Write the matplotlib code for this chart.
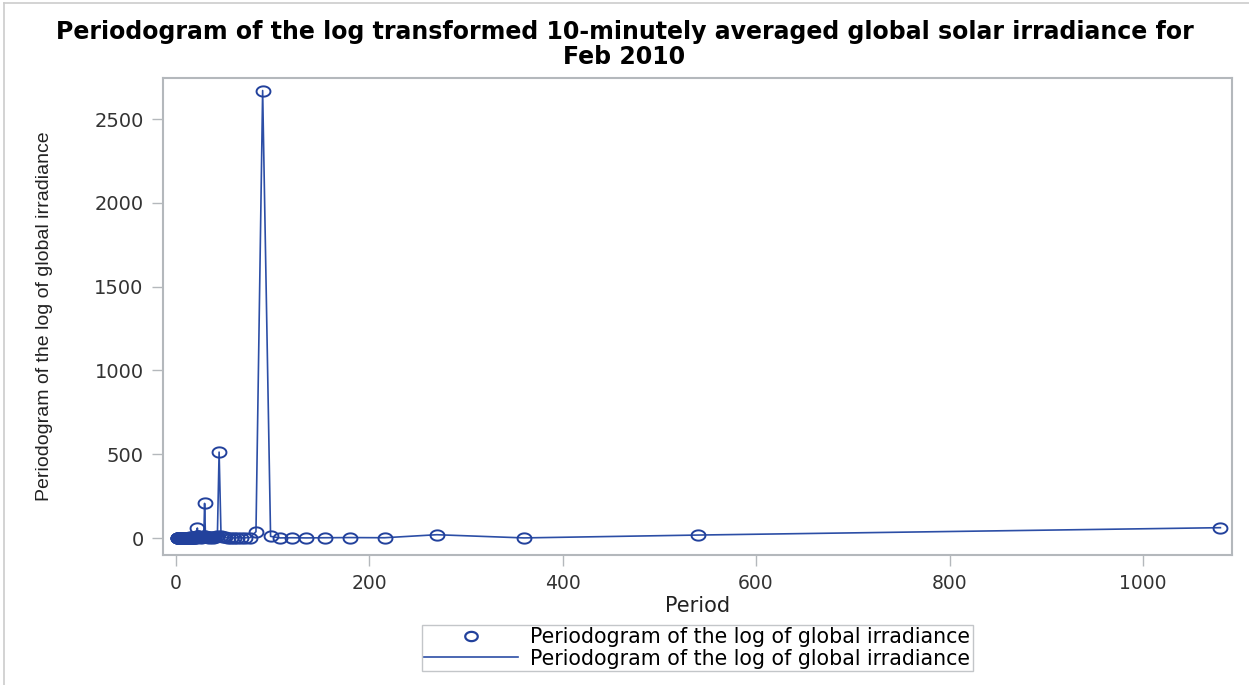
import matplotlib
matplotlib.use("Agg")
import numpy as np
import matplotlib.pyplot as plt
from matplotlib.lines import Line2D
from matplotlib.path import Path

# Fourier periods (10-minute steps) and periodogram ordinates
period = [1080, 540, 360, 270, 216, 180, 154.3, 135, 120, 108, 98.2, 90, 83.1,
          77.1, 72, 67.5, 63.5, 60, 56.8, 54, 51.4, 49.1, 47.0, 45, 43.2, 41.5,
          40, 38.6, 37.2, 36, 34.8, 33.8, 32.7, 31.8, 30.9, 30, 29.2, 28.4, 27.7,
          27, 26.3, 25.7, 25.1, 24.5, 24, 23.5, 23.0, 22.5, 22.0, 21.6, 21.2,
          20.8, 20.4, 20.0, 19.6, 18.9, 18.3, 17.7, 17.1, 16.6, 16.1, 15.7, 15.2,
          14.8, 14.4, 14.0, 13.7, 13.3, 13.0, 12.7, 12.4, 12.0, 11.7, 11.4, 11.0,
          10.6, 10.3, 10.0, 9.6, 9.2, 8.9, 8.5, 8.2, 7.8, 7.5, 7.2, 6.9, 6.5, 6.2,
          5.9, 5.6, 5.3, 5.0, 4.7, 4.4, 4.1, 3.8, 3.5, 3.2, 3.0, 2.7, 2.4, 2.2, 2.0]
pgram = [62, 18, 1, 20, 2, 3, 2, 1, 2, 1, 10, 2670, 38,
         3, 2, 1, 2, 1, 3, 2, 4, 8, 12, 513, 10, 6,
         4, 3, 5, 4, 3, 6, 4, 8, 12, 207, 10, 5, 4,
         6, 3, 5, 8, 4, 6, 10, 14, 60, 12, 6, 4,
         3, 5, 4, 2, 3, 4, 2, 3, 5, 2, 3, 2,
         4, 2, 3, 1, 2, 3, 1, 2, 2, 1, 3, 2,
         1, 2, 1, 2, 1, 1, 2, 1, 1, 2, 1, 1, 1, 2,
         1, 1, 1, 1, 1, 1, 1, 1, 1, 1, 1, 1, 1, 1, 1]

x_ticks = [0, 200, 400, 600, 800, 1000]
y_ticks = [0, 500, 1000, 1500, 2000, 2500]
series_label = "Periodogram of the log of global irradiance"

plt.rcParams['font.family'] = ['DejaVu Sans']

blue = '#22419c'
line_blue = '#2c4ea6'
grey = '#b4b8bc'

# slightly wide ellipse, like the stretched SAS markers
t = np.linspace(0, 2 * np.pi, 60)
ellipse = Path(np.column_stack([1.35 * np.cos(t), np.sin(t)]), closed=True)

fig = plt.figure(figsize=(12.49, 6.85), dpi=100)
ax = fig.add_axes([163 / 1249, 1 - 555 / 685, (1232 - 163) / 1249, (555 - 78) / 685])

ax.plot(period, pgram, color=line_blue, linewidth=1.2, zorder=2)
ax.plot(period, pgram, linestyle='none', marker=ellipse, markersize=10,
        markerfacecolor='none', markeredgecolor=blue, markeredgewidth=1.4, zorder=3)

ax.set_xlim(-13, 1092)
ax.set_ylim(-101, 2745)
ax.set_xticks(x_ticks)
ax.set_yticks(y_ticks)
ax.set_xticklabels([str(v) for v in x_ticks], fontsize=13.5, color='#333333')
ax.set_yticklabels([str(v) for v in y_ticks], fontsize=14, color='#333333')
ax.tick_params(direction='out', length=8, width=1, color=grey, pad=6)
for s in ax.spines.values():
    s.set_color(grey)
    s.set_linewidth(1.5)

ax.set_xlabel('Period', fontsize=15, color='#222222', labelpad=2)
ax.set_ylabel('Periodogram of the log of global irradiance', family='Liberation Sans',
              fontsize=14, color='#222222', labelpad=30)
fig.text(0.5, 1 - 32 / 685, 'Periodogram of the log transformed 10-minutely averaged global solar irradiance for',
         ha='center', va='center', fontsize=17, fontweight='bold')
fig.text(0.5, 1 - 57 / 685, 'Feb 2010', ha='center', va='center', fontsize=17, fontweight='bold')

handles = [Line2D([], [], linestyle='none', marker=ellipse, markersize=9,
                  markerfacecolor='none', markeredgecolor=blue, markeredgewidth=1.6),
           Line2D([], [], color=line_blue, linewidth=1.2)]
leg = fig.legend(handles, [series_label, series_label], loc='center',
                 bbox_to_anchor=(697 / 1249, 1 - 648 / 685), fontsize=14.8,
                 frameon=True, fancybox=False, handlelength=4.6, borderpad=0.1,
                 labelspacing=0.05, handletextpad=0.6, borderaxespad=0)
leg.get_frame().set_edgecolor(grey)
leg.get_frame().set_linewidth(1)

# thin frame lines along the left and top edges of the image
fig.add_artist(Line2D([4 / 1249, 4 / 1249], [0, 1 - 3 / 685], transform=fig.transFigure,
                      color='#cccccc', linewidth=1.2))
fig.add_artist(Line2D([4 / 1249, 1], [1 - 3 / 685, 1 - 3 / 685], transform=fig.transFigure,
                      color='#cccccc', linewidth=1.2))

fig.savefig('out.png', dpi=100)
